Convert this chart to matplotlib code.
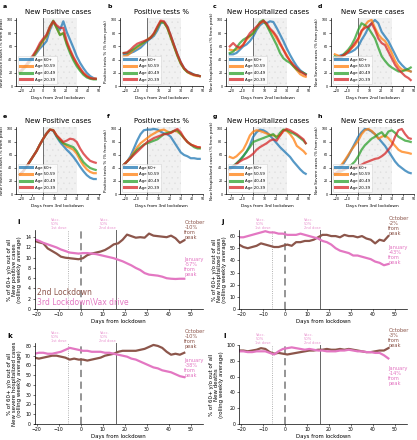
import numpy as np
import matplotlib.pyplot as plt
import matplotlib.ticker as ticker

plt.rcParams['hatch.linewidth'] = 0.3

"""
Data (read off the reference picture)
"""
days_top = [-21, -18, -15, -12, -9, -6, -3, 0, 3, 6, 9, 12, 15, 18, 21, 24, 27, 30, 33, 36, 39, 42, 45, 47]

age_labels = ['Age 60+', 'Age 50-59', 'Age 40-49', 'Age 20-39']
age_colours = ['tab:blue', 'tab:orange', 'tab:green', 'tab:red']

# 2nd lockdown, % from peak, order: 60+, 50-59, 40-49, 20-39
pos_cases_2nd = [[20, 25, 30, 37, 43, 50, 57, 62, 68, 85, 97, 90, 85, 98, 82, 70, 58, 45, 35, 27, 20, 15, 12, 11],
                 [20, 25, 31, 37, 44, 52, 60, 68, 75, 88, 98, 88, 78, 80, 65, 53, 42, 33, 25, 19, 15, 12, 11, 11],
                 [20, 26, 32, 38, 45, 53, 62, 70, 76, 90, 99, 88, 77, 80, 63, 50, 39, 30, 23, 17, 13, 11, 10, 10],
                 [22, 27, 33, 40, 47, 55, 65, 72, 78, 90, 98, 92, 88, 88, 68, 55, 44, 35, 27, 20, 15, 12, 11, 11]]
pos_tests_2nd = [[48, 48, 50, 52, 55, 58, 63, 68, 72, 76, 84, 95, 97, 90, 76, 62, 48, 36, 27, 22, 20, 17, 16, 15],
                 [45, 46, 50, 55, 58, 62, 66, 70, 74, 78, 88, 98, 96, 88, 74, 60, 46, 34, 26, 21, 18, 16, 15, 15],
                 [50, 50, 53, 56, 60, 63, 66, 70, 73, 79, 88, 97, 96, 88, 74, 60, 46, 34, 26, 21, 19, 17, 16, 15],
                 [50, 51, 55, 60, 64, 66, 68, 70, 73, 80, 90, 99, 98, 90, 77, 62, 48, 36, 27, 22, 19, 17, 16, 15]]
hosp_2nd = [[48, 48, 50, 55, 60, 63, 68, 75, 85, 92, 96, 95, 98, 97, 88, 78, 68, 57, 47, 38, 30, 24, 20, 18],
            [55, 54, 55, 58, 63, 70, 75, 80, 88, 95, 98, 93, 85, 80, 72, 63, 55, 47, 38, 30, 24, 18, 15, 14],
            [50, 52, 58, 65, 70, 73, 76, 80, 88, 97, 100, 92, 82, 72, 62, 50, 42, 38, 35, 30, 25, 22, 20, 18],
            [60, 65, 60, 58, 62, 72, 80, 85, 90, 95, 99, 95, 87, 82, 75, 65, 55, 45, 38, 32, 27, 22, 19, 17]]
severe_2nd = [[42, 45, 47, 48, 50, 52, 55, 60, 70, 78, 88, 95, 100, 95, 82, 75, 68, 58, 48, 38, 32, 27, 24, 22],
              [48, 46, 44, 47, 52, 57, 62, 70, 82, 92, 98, 100, 88, 78, 72, 68, 60, 50, 38, 30, 25, 24, 23, 22],
              [45, 42, 44, 50, 55, 62, 72, 85, 95, 92, 88, 80, 72, 58, 45, 38, 32, 28, 25, 22, 22, 24, 26, 28],
              [40, 42, 45, 48, 52, 58, 65, 72, 84, 88, 90, 95, 85, 72, 65, 62, 52, 42, 32, 25, 20, 15, 12, 9]]

# 3rd lockdown
pos_cases_3rd = [[30, 35, 42, 50, 58, 66, 76, 85, 93, 99, 97, 88, 80, 74, 68, 63, 57, 50, 42, 35, 29, 25, 23, 23],
                 [30, 35, 42, 50, 58, 66, 76, 85, 93, 99, 98, 90, 84, 78, 73, 71, 68, 62, 52, 44, 38, 34, 32, 32],
                 [30, 35, 42, 50, 58, 66, 76, 85, 93, 99, 98, 89, 82, 78, 76, 74, 72, 66, 57, 49, 44, 40, 38, 37],
                 [30, 35, 42, 50, 58, 66, 76, 85, 93, 99, 98, 90, 85, 80, 82, 85, 84, 80, 70, 62, 56, 51, 49, 48]]
pos_tests_3rd = [[45, 50, 58, 70, 82, 92, 98, 99, 99, 100, 99, 96, 93, 92, 88, 80, 72, 64, 60, 58, 55, 55, 54, 54],
                 [45, 50, 56, 64, 72, 78, 82, 86, 90, 93, 96, 98, 99, 96, 94, 97, 96, 92, 86, 80, 76, 74, 72, 71],
                 [45, 50, 55, 62, 68, 72, 76, 78, 80, 82, 84, 88, 92, 94, 95, 97, 98, 92, 86, 80, 76, 72, 70, 70],
                 [45, 50, 55, 60, 65, 70, 75, 80, 83, 86, 88, 90, 92, 92, 94, 97, 100, 95, 86, 80, 76, 74, 72, 72]]
hosp_3rd = [[38, 42, 47, 52, 58, 65, 75, 88, 95, 99, 98, 95, 90, 84, 78, 72, 67, 62, 57, 50, 44, 38, 33, 31],
            [57, 55, 58, 63, 68, 78, 90, 96, 98, 97, 95, 93, 91, 90, 89, 90, 98, 97, 92, 85, 74, 70, 66, 62],
            [40, 43, 47, 52, 58, 65, 72, 80, 82, 84, 86, 88, 90, 92, 86, 94, 99, 98, 95, 93, 90, 86, 82, 78],
            [38, 42, 46, 50, 53, 55, 58, 62, 68, 72, 75, 78, 82, 84, 82, 90, 97, 100, 98, 95, 92, 88, 84, 78]]
severe_3rd = [[30, 35, 42, 50, 58, 68, 78, 88, 95, 100, 99, 96, 92, 86, 80, 74, 66, 58, 50, 44, 40, 36, 33, 32],
              [38, 40, 45, 52, 60, 68, 75, 82, 92, 98, 100, 97, 92, 85, 88, 90, 86, 80, 74, 68, 65, 64, 63, 62],
              [30, 32, 35, 38, 42, 45, 50, 58, 68, 75, 80, 85, 88, 92, 95, 88, 96, 98, 94, 88, 85, 82, 81, 80],
              [32, 34, 36, 38, 40, 40, 42, 43, 45, 48, 50, 52, 54, 55, 58, 62, 68, 75, 88, 98, 100, 92, 86, 85]]

top_titles = ['New Positive cases', 'Positive tests %', 'New Hospitalized cases', 'New Severe cases']
top_ylabels = ['New Positive cases (% from peak)', 'Positive tests % (% from peak)',
               'New Hospitalized cases (% from peak)', 'New Severe cases (% from peak)']

# bottom panels: % of 60+ out of all
days_bottom = [-21, -19, -17, -15, -13, -11, -9, -7, -5, -3, -1, 1, 3, 5, 7, 9, 11, 13,
               15, 17, 19, 21, 23, 25, 27, 29, 31, 33, 35, 37, 39, 41, 43, 45, 47]

share_pos_oct = [13.3, 13.0, 12.8, 11.8, 11.3, 10.8, 10.2, 10.0, 9.9, 9.8, 9.7, 9.9, 10.5, 10.8, 11.0, 11.2, 11.5, 12.0,
                 12.6, 12.8, 13.5, 14.5, 14.2, 13.9, 14.0, 13.9, 14.7, 14.3, 14.2, 14.1, 14.0, 14.3, 13.8, 12.9, 13.4]
share_pos_jan = [13.6, 13.3, 12.9, 12.6, 12.3, 12.0, 11.6, 11.3, 11.0, 10.9, 10.8, 10.9, 10.9, 10.8, 10.7, 10.5, 10.3, 10.1,
                 9.9, 9.6, 9.3, 8.9, 8.5, 8.0, 7.6, 7.0, 6.7, 6.6, 6.5, 6.3, 6.0, 5.9, 5.85, 5.9, 5.9]
share_hosp_oct = [53, 51, 50, 51, 52, 54, 53, 52, 51, 51, 52, 53, 52, 55, 55, 56, 56, 57,
                  59, 61, 61, 60, 60, 59, 61, 60, 60, 59, 60, 58, 57, 54, 57, 56, 60]
share_hosp_jan = [59, 59, 60, 61, 62, 63, 64, 63, 63, 62, 62, 61, 61, 61, 62, 61, 60, 59,
                  58, 56, 55, 53, 50, 48, 47, 46, 44, 44, 43, 42, 41, 39, 38, 36, 37]
share_sev_oct = [68, 67, 68, 69, 70, 70, 69, 68, 66, 67, 66, 66, 65, 66, 67, 68, 70, 71,
                 72, 74, 75, 75, 75, 75, 76, 77, 79, 81, 80, 78, 74, 71, 72, 71, 73]
share_sev_jan = [72, 73, 73, 72, 72, 73, 74, 76, 78, 77, 76, 75, 75, 74, 74, 74, 73, 73,
                 72, 71, 70, 69, 67, 66, 64, 62, 60, 58, 57, 55, 54, 53, 51, 49, 48]
share_death_oct = [93, 93, 92, 93, 94, 96, 95, 91, 89, 90, 89, 88, 89, 90, 91, 92, 93, 93,
                   94, 94, 95, 94, 94, 95, 94, 95, 94, 93, 92, 91, 91, 92, 93, 93, 96]
share_death_jan = [92, 92, 91, 91, 92, 92, 92, 90, 88, 92, 95, 96, 97, 96, 95, 94, 95, 94,
                   93, 93, 92, 92, 92, 93, 93, 94, 93, 92, 92, 91, 91, 90, 90, 87, 83]

bottom_ylabels = ['% of 60+ y/o out of all\nNew positive cases\n(rolling weekly average)',
                  '% of 60+ y/o out of all\nNew hospitalized cases\n(rolling weekly average)',
                  '% of 60+ y/o out of all\nNew severe hospitalized cases\n(rolling weekly average)',
                  '% of 60+ y/o out of all\nNew deaths\n(rolling weekly average)']
oct_change = ['-10%', '-2%', '-10%', '-3%']
jan_change = ['-57%', '-43%', '-38%', '-14%']
bottom_ylims = [15.4, 65, 83, 100]
bottom_ysteps = [2, 10, 10, 20]

BROWN = '#8c564b'
PINK = '#e377c2'

"""
Figure
"""
W, H = 417, 440
fig = plt.figure(figsize=(W / 100, H / 100), dpi=100)

def px_axes(l, t, r, b):
    return fig.add_axes([l / W, 1 - b / H, (r - l) / W, (b - t) / H])

def style(ax, lsize):
    for s in ['top', 'right']:
        ax.spines[s].set_visible(False)
    for s in ['left', 'bottom']:
        ax.spines[s].set_linewidth(0.5)
    ax.tick_params(labelsize=lsize, length=1.5, width=0.4, pad=1)

col_left = [16, 120, 226, 331]
col_w = 83.5
rows = [(18, 86, pos_cases_2nd, pos_tests_2nd, hosp_2nd, severe_2nd, '2nd', 'abcd', 3),
        (127, 194, pos_cases_3rd, pos_tests_3rd, hosp_3rd, severe_3rd, '3rd', 'efgh', 113)]

for top, bot, s1, s2, s3, s4, which, letters, letter_y in rows:
    for jj, series in enumerate([s1, s2, s3, s4]):
        ax = px_axes(col_left[jj], top, col_left[jj] + col_w, bot)
        ax.axvspan(0, 30, facecolor='#f1f1f1', edgecolor='#dedede', hatch='...', lw=0, zorder=0)
        ax.axvline(0, color='0.35', lw=0.6, zorder=1)
        for kk in range(4):
            ax.plot(days_top, series[kk], color=age_colours[kk], lw=1.6, alpha=0.75, label=age_labels[kk])
        ax.set_xlim(-24.4, 50.4)
        ax.set_ylim(0, 103)
        ax.xaxis.set_major_locator(ticker.MultipleLocator(10))
        ax.yaxis.set_major_locator(ticker.MultipleLocator(20))
        style(ax, 2.3)
        ax.set_title(top_titles[jj], fontsize=5, pad=3)
        ax.set_xlabel('Days from %s lockdown' % which, fontsize=3.2, labelpad=1.5)
        ax.set_ylabel(top_ylabels[jj], fontsize=3.0, labelpad=1.5)
        leg = ax.legend(loc='lower left', fontsize=2.8, handlelength=3.0, borderpad=0.5,
                        labelspacing=0.7, frameon=True, borderaxespad=0.6)
        for line in leg.get_lines():
            line.set_linewidth(2.2)
        leg.get_frame().set_linewidth(0.4)
        fig.text((col_left[jj] - 13) / W, 1 - (letter_y + 3) / H, letters[jj], fontsize=4.5,
                 fontweight='bold', va='center')

bottom_boxes = [(34.5, 230, 203, 309), (239, 230, 407, 309), (34.5, 343, 203, 424), (239, 345, 407, 424)]
bottom_series = [(share_pos_oct, share_pos_jan), (share_hosp_oct, share_hosp_jan),
                 (share_sev_oct, share_sev_jan), (share_death_oct, share_death_jan)]
oct_text_y = [13.4, 60, 77, 96.5]
jan_text_y = [6.2, 36, 47, 48]
letter_pos = [(17, 222), (221, 222), (7, 336), (223, 336)]

for ii, (l, t, r, b) in enumerate(bottom_boxes):
    ax = px_axes(l, t, r, b)
    oct_vals, jan_vals = bottom_series[ii]
    ax.axvline(-6, color='0.6', lw=0.6, ls=':')
    ax.axvline(0, color='0.55', lw=1.3, ls=(0, (4, 2.5)))
    ax.axvline(16, color='0.4', lw=0.7)
    ax.plot(days_bottom, oct_vals, color=BROWN, lw=1.6)
    ax.plot(days_bottom, jan_vals, color=PINK, lw=1.6)
    ax.set_xlim(-21, 55.5)
    ax.set_ylim(0, bottom_ylims[ii])
    ax.xaxis.set_major_locator(ticker.MultipleLocator(10))
    ax.yaxis.set_major_locator(ticker.MultipleLocator(bottom_ysteps[ii]))
    style(ax, 3.3)
    ax.set_xlabel('Days from lockdown', fontsize=3.9, labelpad=1)
    ax.set_ylabel(bottom_ylabels[ii], fontsize=4.0, labelpad=2, linespacing=1.0)

    trans = ax.get_xaxis_transform()
    ax.text(-13.5, 1.0, 'Vacc.\n50%\n1st dose', transform=trans, fontsize=2.6, color=PINK,
            alpha=0.8, va='bottom', ha='left', linespacing=1.0)
    ax.text(8.5, 1.0, 'Vacc.\n50%\n2nd dose', transform=trans, fontsize=2.6, color=PINK,
            alpha=0.8, va='bottom', ha='left', linespacing=1.0)
    ax.text(47, oct_text_y[ii], 'October\n%s\nfrom\npeak' % oct_change[ii], fontsize=3.7,
            color=BROWN, va='bottom', ha='left', linespacing=1.0, clip_on=False)
    ax.text(47, jan_text_y[ii], 'January\n%s\nfrom\npeak' % jan_change[ii], fontsize=3.7,
            color=PINK, va='bottom', ha='left', linespacing=1.0, clip_on=False)
    fig.text(letter_pos[ii][0] / W, 1 - letter_pos[ii][1] / H, 'ijkl'[ii], fontsize=5,
             fontweight='bold', va='center')

    if ii == 0:
        ax.text(0.015, 0.215, '2nd Lockdown', transform=ax.transAxes, fontsize=5.5,
                color=BROWN, va='center')
        ax.text(0.015, 0.09, '3rd Lockdown\\Vax drive', transform=ax.transAxes, fontsize=5.5,
                color=PINK, va='center')

plt.savefig('out.png', dpi=100)
